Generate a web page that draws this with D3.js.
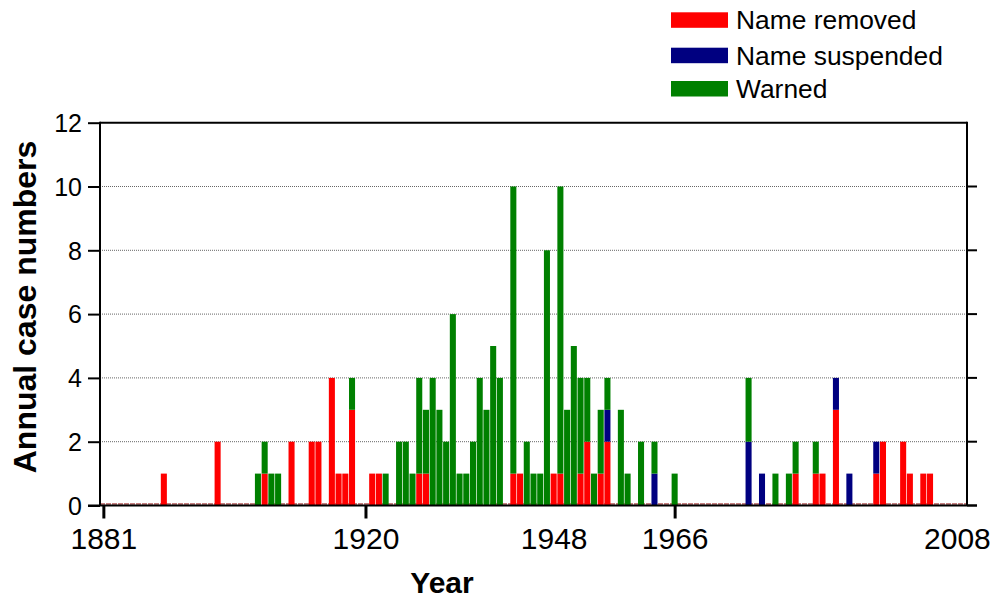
<!DOCTYPE html>
<html>
<head>
<meta charset="utf-8">
<script src="https://cdn.jsdelivr.net/npm/d3@7"></script>
<style>
  html, body { margin: 0; padding: 0; background: #fff; }
  svg { display: block; font-family: "Liberation Sans", Arial, sans-serif; }
</style>
</head>
<body>
<svg id="chart" width="1001" height="598"></svg>
<script>
// ---- data ----
const years     = [1890,1898,1904,1905,1906,1907,1909,1912,1913,1915,1916,1917,1918,1921,1922,1923,1925,1926,1927,1928,1929,1930,1931,1932,1933,1934,1935,1936,1937,1938,1939,1940,1942,1943,1944,1945,1946,1947,1948,1949,1950,1951,1952,1953,1954,1955,1956,1958,1959,1961,1963,1966,1977,1979,1981,1983,1984,1987,1988,1990,1992,1996,1997,2000,2001,2003,2004];
const removed   = [1,2,0,1,0,0,2,2,2,4,1,1,3,1,1,0,0,0,0,1,1,0,0,0,0,0,0,0,0,0,0,0,1,1,0,0,0,0,1,1,0,0,1,2,0,1,2,0,0,0,0,0,0,0,0,0,1,1,1,3,0,1,2,2,1,1,1];
const suspended = [0,0,0,0,0,0,0,0,0,0,0,0,0,0,0,0,0,0,0,0,0,0,0,0,0,0,0,0,0,0,0,0,0,0,0,0,0,0,0,0,0,0,0,0,0,0,1,0,0,0,1,0,2,1,0,0,0,0,0,1,1,1,0,0,0,0,0];
const warned    = [0,0,1,1,1,1,0,0,0,0,0,0,1,0,0,1,2,2,1,3,2,4,3,2,6,1,1,2,4,3,5,4,9,0,2,1,1,8,0,9,3,5,3,2,1,2,1,3,1,2,1,1,2,0,1,1,1,1,0,0,0,0,0,0,0,0,0];
const seriesKeys   = ["removed","suspended","warned"];
const seriesLabels = ["Name removed","Name suspended","Warned"];
const seriesColors = ["#ff0000","#000080","#008000"];
const xTickLabels  = [1881,1920,1948,1966,2008];
const xTickMarks   = [1881,1920,1966];
const yTicks       = [0,2,4,6,8,10,12];

// ---- layout ----
const svg = d3.select("#chart");
const L = 100, R = 967, T = 122.7, B = 505.5;
const x = d3.scaleLinear().domain([1880.5, 2009.5]).range([L, R]);
const y = d3.scaleLinear().domain([0, 12]).range([B, T]);
const bw = (x(1) - x(0)) * 0.9;

const table = years.map((yr, i) => ({year: yr, removed: removed[i], suspended: suspended[i], warned: warned[i]}));
const stacked = d3.stack().keys(seriesKeys)(table);

// gridlines
svg.append("g").selectAll("line").data(yTicks.filter(v => v > 0 && v < 12)).join("line")
  .attr("x1", L).attr("x2", R).attr("y1", d => y(d)).attr("y2", d => y(d))
  .attr("stroke", "#666").attr("stroke-width", 1).attr("stroke-dasharray", "1,1");

// zero-bar hairline
svg.append("line").attr("x1", L).attr("x2", R)
  .attr("y1", y(0) - 1.5).attr("y2", y(0) - 1.5)
  .attr("stroke", "#8b0000").attr("stroke-width", 1).attr("stroke-dasharray", "5,1");

// bars
svg.append("g").selectAll("g").data(stacked).join("g")
  .attr("fill", (d, i) => seriesColors[i])
  .selectAll("rect").data(d => d.filter(s => s[1] > s[0])).join("rect")
  .attr("x", d => x(d.data.year) - bw / 2)
  .attr("width", bw)
  .attr("y", d => y(d[1]))
  .attr("height", d => y(d[0]) - y(d[1]));

// frame: top and right
svg.append("line").attr("x1", L).attr("x2", R).attr("y1", T).attr("y2", T)
  .attr("stroke", "#000").attr("stroke-width", 2);
svg.append("line").attr("x1", R).attr("x2", R).attr("y1", T - 1).attr("y2", B)
  .attr("stroke", "#000").attr("stroke-width", 2);

// right ticks
svg.append("g").selectAll("line").data(yTicks.filter(v => v < 12)).join("line")
  .attr("x1", R).attr("x2", R + 10).attr("y1", d => y(d)).attr("y2", d => y(d))
  .attr("stroke", "#000").attr("stroke-width", 2);

// left y axis
const yAxis = svg.append("g").attr("transform", `translate(${L},0)`)
  .call(d3.axisLeft(y).tickValues(yTicks).tickSize(12).tickPadding(6).tickFormat(d3.format("d")));
yAxis.select(".domain").attr("stroke", "#000").attr("stroke-width", 2).attr("d", `M0,${T - 1}V${B}`);
yAxis.selectAll(".tick line").attr("stroke", "#000").attr("stroke-width", 2);
yAxis.selectAll(".tick text").attr("font-size", 25).attr("fill", "#000").attr("dy", "0.35em");

// x axis baseline
svg.append("line").attr("x1", L - 12).attr("x2", R + 10).attr("y1", y(0)).attr("y2", y(0))
  .attr("stroke", "#000").attr("stroke-width", 2);

// x tick marks
const xMarks = svg.append("g").attr("transform", `translate(0,${y(0)})`)
  .call(d3.axisBottom(x).tickValues(xTickMarks).tickSize(13).tickFormat(""));
xMarks.select(".domain").remove();
xMarks.selectAll(".tick line").attr("stroke", "#000").attr("stroke-width", 3);

// x tick labels
const xLabels = svg.append("g").attr("transform", `translate(0,${y(0)})`)
  .call(d3.axisBottom(x).tickValues(xTickLabels).tickSize(0).tickPadding(0).tickFormat(d3.format("d")));
xLabels.select(".domain").remove();
xLabels.selectAll(".tick text").attr("font-size", 30).attr("fill", "#000").attr("dy", "0").attr("y", 43);

// axis titles
svg.append("text").attr("x", 442).attr("y", 593)
  .attr("text-anchor", "middle").attr("font-size", 30).attr("font-weight", "bold").text("Year");
svg.append("text").attr("transform", `translate(36,307) rotate(-90)`)
  .attr("text-anchor", "middle").attr("font-size", 32).attr("font-weight", "bold").text("Annual case numbers");

// legend
const legend = svg.append("g").selectAll("g").data(seriesLabels).join("g")
  .attr("transform", (d, i) => `translate(671,${[12.3, 47.7, 81][i]})`);
legend.append("rect").attr("width", 57).attr("height", 15.5).attr("fill", (d, i) => seriesColors[i]);
legend.append("text").attr("x", 65).attr("y", 17).attr("font-size", 26.4).attr("fill", "#000").text(d => d);
</script>
</body>
</html>
